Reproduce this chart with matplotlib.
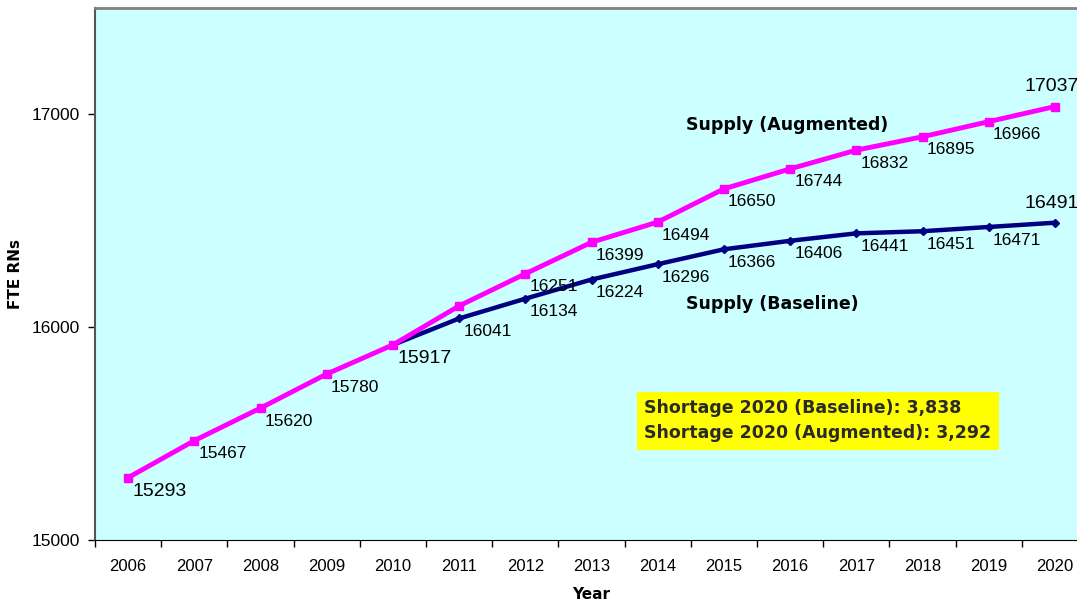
import matplotlib.pyplot as plt
import numpy as np

years = ['2006', '2007', '2008', '2009', '2010', '2011', '2012', '2013',
         '2014', '2015', '2016', '2017', '2018', '2019', '2020']
baseline = [15293, 15467, 15620, 15780, 15917, 16041, 16134, 16224,
            16296, 16366, 16406, 16441, 16451, 16471, 16491]
augmented = [15293, 15467, 15620, 15780, 15917, 16100, 16251, 16399,
             16494, 16650, 16744, 16832, 16895, 16966, 17037]

plt.rcParams['font.family'] = ['Liberation Sans', 'DejaVu Sans']

fig = plt.figure(figsize=(10.77, 6.03), dpi=100)
# plot area runs past the right edge of the picture, like the cropped original
ax = fig.add_axes([95 / 1077, 63 / 603, 993 / 1077, 532 / 603])
ax.set_facecolor('#CCFFFF')

x = np.arange(len(years))
ax.plot(x[4:], baseline[4:], color='#000080', lw=3.2, marker='D', ms=4, zorder=3)
ax.plot(x, augmented, color='#FF00FF', lw=3.5, marker='s', ms=6, zorder=4)

ax.set_xlim(-0.5, len(years) - 0.5)
ax.set_ylim(15000, 17500)
ax.set_yticks([15000, 16000, 17000])
ax.tick_params(axis='y', length=5, width=1, labelsize=12.5, pad=6)
ax.set_xticks(x)
ax.set_xticklabels(years)
ax.set_xticks(np.arange(len(years) + 1) - 0.5, minor=True)
ax.tick_params(axis='x', which='major', length=0, labelsize=12, pad=14)
ax.tick_params(axis='x', which='minor', length=5, width=1)

for s in ['top', 'right']:
    ax.spines[s].set_color('#808080')
    ax.spines[s].set_linewidth(2)
ax.spines['left'].set_color('#555555')
ax.spines['left'].set_linewidth(1.5)
ax.spines['bottom'].set_color('black')

ax.set_ylabel('FTE RNs', fontsize=11, fontweight='bold', family='DejaVu Sans', labelpad=6)
ax.set_xlabel('Year', fontsize=11, fontweight='bold', family='DejaVu Sans', labelpad=9)

# data labels
big = {0, 4}
for i, v in enumerate(augmented):
    if i == len(years) - 1:
        ax.annotate(str(v), (x[i], v), xytext=(-2, 8), textcoords='offset points',
                    ha='center', va='bottom', fontsize=14)
    elif i == 5:
        continue
    else:
        ax.annotate(str(v), (x[i], v), xytext=(3, -4), textcoords='offset points',
                    ha='left', va='top', fontsize=14 if i in big else 12.5)
for i in range(5, len(years)):
    v = baseline[i]
    if i == len(years) - 1:
        ax.annotate(str(v), (x[i], v), xytext=(-2, 8), textcoords='offset points',
                    ha='center', va='bottom', fontsize=14)
    else:
        ax.annotate(str(v), (x[i], v), xytext=(3, -4), textcoords='offset points',
                    ha='left', va='top', fontsize=12.5)

ax.text(8.43, 16950, 'Supply (Augmented)', fontsize=12.5, fontweight='bold',
        family='DejaVu Sans', ha='left', va='center')
ax.text(8.43, 16110, 'Supply (Baseline)', fontsize=12.5, fontweight='bold',
        family='DejaVu Sans', ha='left', va='center')

ax.text(7.8, 15560, 'Shortage 2020 (Baseline): 3,838\nShortage 2020 (Augmented): 3,292',
        fontsize=12.5, fontweight='bold', family='DejaVu Sans', color='#2a2a2a',
        ha='left', va='center', linespacing=1.5,
        bbox=dict(boxstyle='square,pad=0.45', fc='#FFFF00', ec='none'))

fig.savefig('out.png', dpi=100)
